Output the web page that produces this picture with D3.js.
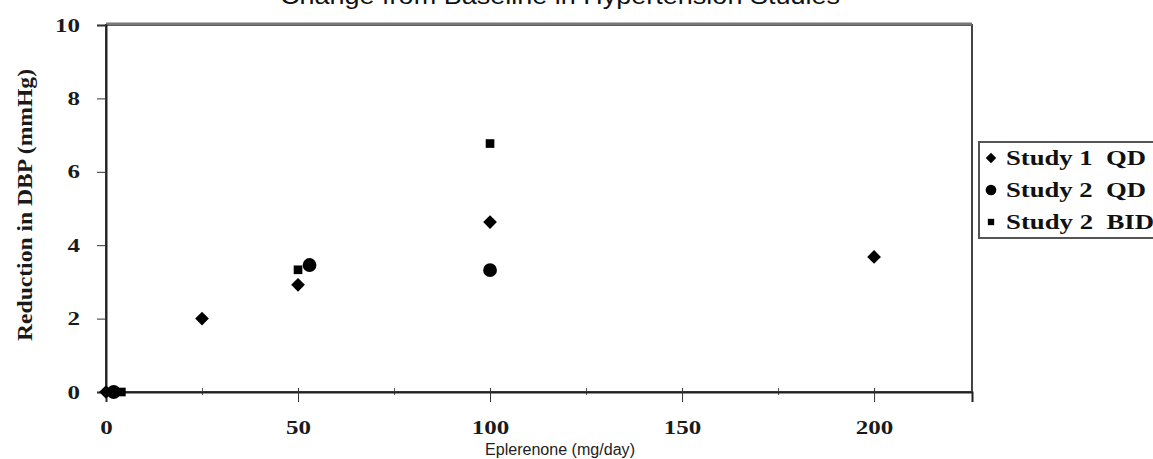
<!DOCTYPE html>
<html>
<head>
<meta charset="utf-8">
<script src="https://cdn.jsdelivr.net/npm/d3@7"></script>
<style>
  body { margin: 0; background: #fff; }
  svg { display: block; }
  .tick text { font-family: "Liberation Serif", serif; font-weight: bold; font-size: 19px; fill: #1a1a1a; }
</style>
</head>
<body>
<script>
const svgWidth = 1153
const svgHeight = 459

const margin = { top: 25, right: 181, bottom: 67, left: 106 }
const chartWidth = svgWidth - margin.left - margin.right
const chartHeight = svgHeight - margin.top - margin.bottom

// data
const seriesNames = ["Study 1  QD", "Study 2  QD", "Study 2  BID"]
const study1QD = [[0, 0], [25, 2.0], [50, 2.92], [100, 4.63], [200, 3.68]]
const study2QD = [[2, 0], [53, 3.46], [100, 3.32]]
const study2BID = [[4, 0], [50, 3.33], [100, 6.77]]
const xTicks = [0, 50, 100, 150, 200]
const xMinorTicks = [25, 75, 125, 175]
const yTicks = [0, 2, 4, 6, 8, 10]

const svg = d3.select("body").append("svg")
  .attr("width", svgWidth)
  .attr("height", svgHeight)

const chartG = svg.append("g")
  .attr("transform", `translate(${margin.left}, ${margin.top})`)

const x = d3.scaleLinear().domain([0, 225.5]).range([0, chartWidth])
const y = d3.scaleLinear().domain([0, 10]).range([chartHeight, 0])

// the digits in the picture are wide, so stretch them a bit
const stretchTicks = g => g.selectAll(".tick text")
  .attr("textLength", d => String(d).length * 12.5)
  .attr("lengthAdjust", "spacingAndGlyphs")

// plot frame
chartG.append("rect")
  .attr("width", chartWidth)
  .attr("height", chartHeight)
  .attr("fill", "none")
  .attr("stroke", "#444")
  .attr("stroke-width", 2)

chartG.append("line")
  .attr("x1", 0).attr("x2", chartWidth)
  .attr("y1", -1).attr("y2", -1)
  .attr("stroke", "#777")
  .attr("stroke-width", 3)

chartG.append("g")
  .call(d3.axisLeft(y).tickValues(yTicks).tickSize(9).tickPadding(17))
  .call(g => g.select(".domain").attr("stroke", "#222").attr("stroke-width", 2))
  .call(g => g.selectAll(".tick line").attr("stroke", "#333"))
  .call(stretchTicks)

chartG.append("g")
  .attr("transform", `translate(0, ${chartHeight})`)
  .call(d3.axisBottom(x).tickValues(xMinorTicks).tickSize(3).tickFormat(""))
  .call(g => g.select(".domain").remove())
  .call(g => g.selectAll(".tick line").attr("y1", -4).attr("stroke", "#555"))

chartG.append("g")
  .attr("transform", `translate(0, ${chartHeight})`)
  .call(d3.axisBottom(x).tickValues(xTicks).tickSize(10).tickPadding(19))
  .call(g => g.select(".domain").attr("stroke", "#222").attr("stroke-width", 2))
  .call(g => g.selectAll(".tick line").attr("y1", -4).attr("stroke", "#333"))
  .call(stretchTicks)

// titles
svg.append("text")
  .attr("x", 280).attr("y", 4)
  .attr("textLength", 560)
  .attr("lengthAdjust", "spacingAndGlyphs")
  .style("font-family", "Liberation Sans, Arial, sans-serif")
  .style("font-size", "23px")
  .attr("fill", "#111")
  .text("Change from Baseline in Hypertension Studies")

svg.append("text")
  .attr("x", 560).attr("y", 455)
  .attr("text-anchor", "middle")
  .attr("textLength", 150)
  .attr("lengthAdjust", "spacingAndGlyphs")
  .style("font-family", "Liberation Sans, Arial, sans-serif")
  .style("font-size", "16px")
  .attr("fill", "#222")
  .text("Eplerenone (mg/day)")

svg.append("text")
  .attr("transform", "translate(32, 205) rotate(-90)")
  .attr("text-anchor", "middle")
  .attr("textLength", 272)
  .attr("lengthAdjust", "spacingAndGlyphs")
  .style("font-family", "Liberation Serif, serif")
  .style("font-weight", "bold")
  .style("font-size", "20px")
  .attr("fill", "#1a1a1a")
  .text("Reduction in DBP (mmHg)")

// markers
const shapes = [
  d3.symbol().type(d3.symbolDiamond2).size(120),
  d3.symbol().type(d3.symbolCircle).size(150),
  d3.symbol().type(d3.symbolSquare).size(75)
]
const allSeries = [study1QD, study2QD, study2BID]

allSeries.forEach((s, i) => {
  chartG.selectAll(".pt" + i)
    .data(s)
    .enter()
    .append("path")
    .attr("d", shapes[i])
    .attr("transform", d => `translate(${x(d[0])}, ${y(d[1])})`)
    .attr("fill", "#000")
})

// legend
const legendShapes = [
  d3.symbol().type(d3.symbolDiamond2).size(70),
  d3.symbol().type(d3.symbolCircle).size(90),
  d3.symbol().type(d3.symbolSquare).size(40)
]
const legendG = svg.append("g").attr("transform", "translate(979, 142)")
legendG.append("rect")
  .attr("width", 200).attr("height", 96)
  .attr("fill", "#fff")
  .attr("stroke", "#555")
  .attr("stroke-width", 2)

seriesNames.forEach((name, i) => {
  const row = legendG.append("g").attr("transform", `translate(0, ${16 + i * 32})`)
  row.append("path")
    .attr("d", legendShapes[i])
    .attr("transform", "translate(12, 0)")
    .attr("fill", "#000")
  row.append("text")
    .attr("x", 27).attr("y", 7)
    .attr("textLength", i === 2 ? 148 : 140)
    .attr("lengthAdjust", "spacingAndGlyphs")
    .style("white-space", "pre")
    .style("font-family", "Liberation Serif, serif")
    .style("font-weight", "bold")
    .style("font-size", "20px")
    .attr("fill", "#111")
    .text(name)
})
</script>
</body>
</html>
